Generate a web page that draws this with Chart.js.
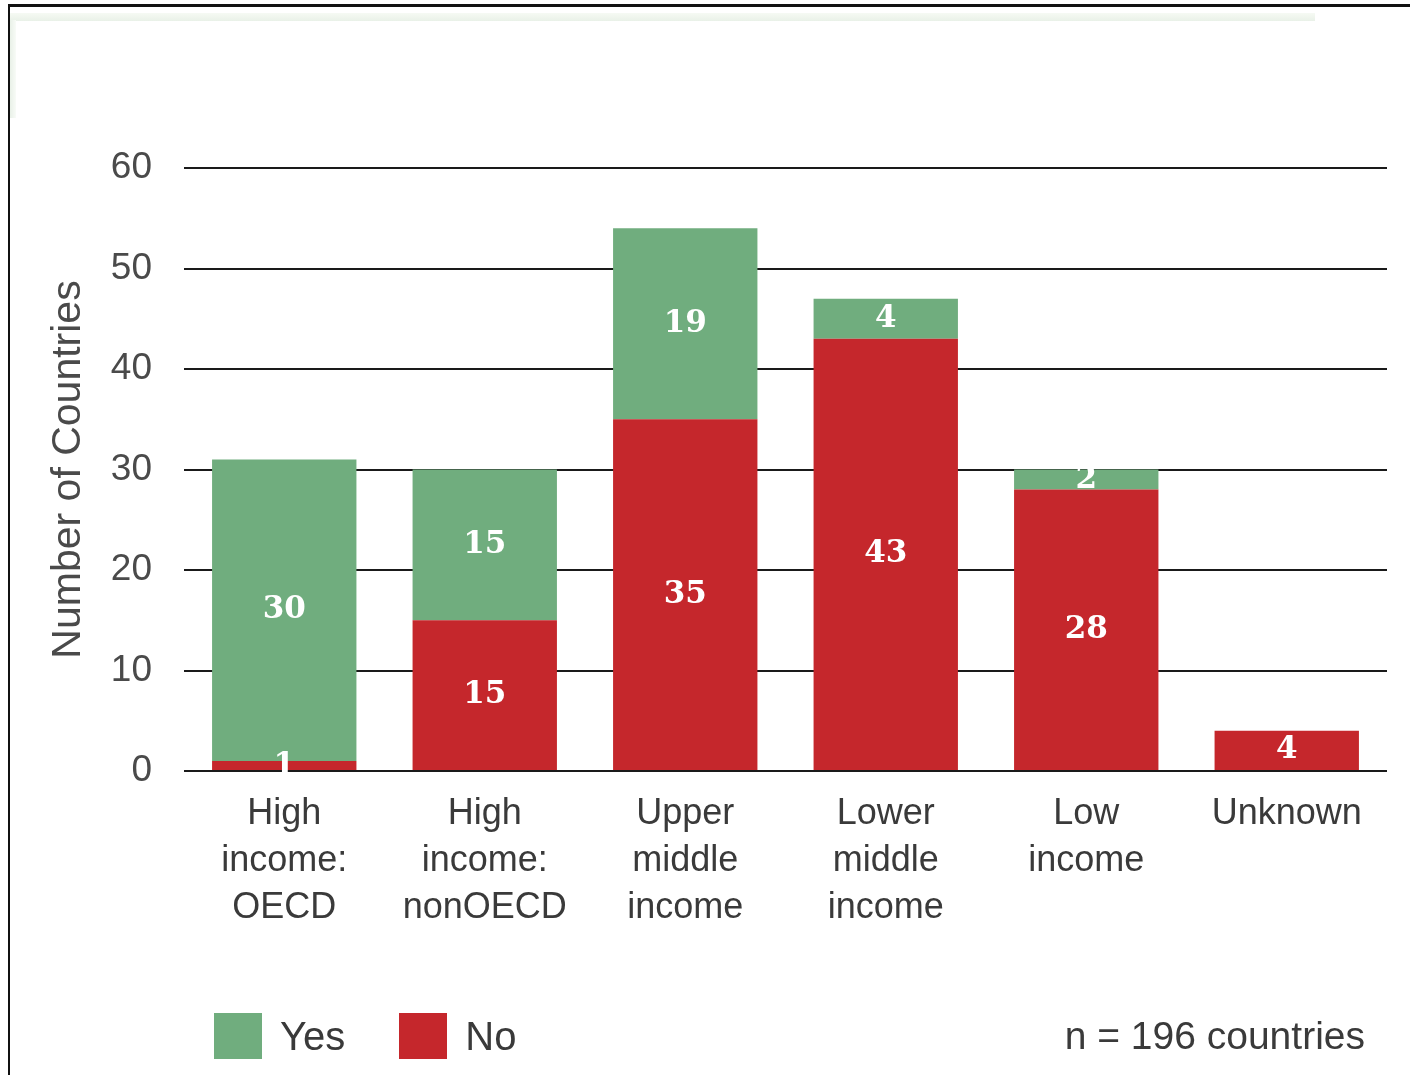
<!DOCTYPE html>
<html>
<head>
<meta charset="utf-8">
<script src="https://cdn.jsdelivr.net/npm/chart.js@4/dist/chart.umd.min.js"></script>
<style>
  html, body { margin: 0; padding: 0; background: #ffffff; }
  #wrap { position: relative; width: 1410px; height: 1075px; overflow: hidden; background: #fff; }
  #c { position: absolute; left: 0; top: 0; }
  .frameTop { position: absolute; left: 8px; top: 4px; width: 1402px; height: 3px; background: #111; }
  .frameLeft { position: absolute; left: 8px; top: 4px; width: 2px; height: 1071px; background: #111; }
  .bandTop { position: absolute; left: 10px; top: 13px; width: 1305px; height: 8px;
             background: linear-gradient(to bottom, #f6faf4, #e9f1e8); }
  .bandLeft { position: absolute; left: 10px; top: 20px; width: 6px; height: 98px;
              background: linear-gradient(to right, #e9f1e8, #f8fbf7); }
  #legend { position: absolute; left: 214px; top: 1012px; height: 48px; display: flex; align-items: center;
            font-family: "Liberation Sans", Arial, sans-serif; font-size: 40px; color: #3a3a3a; }
  .item { display: flex; align-items: center; margin-right: 54px; }
  .sw { width: 48px; height: 46px; margin-right: 18px; }
  #note { position: absolute; right: 45px; top: 1012px; height: 48px; line-height: 48px;
          font-family: "Liberation Sans", Arial, sans-serif; font-size: 39px; color: #3a3a3a; }
</style>
</head>
<body>
<div id="wrap">
  <canvas id="c" width="1410" height="1075"></canvas>
  <div class="bandTop"></div>
  <div class="bandLeft"></div>
  <div class="frameTop"></div>
  <div class="frameLeft"></div>
  <div id="legend"></div>
  <div id="note">n = 196 countries</div>
</div>
<script>
// ---- Data ----
const categories = [
  ["High", "income:", "OECD"],
  ["High", "income:", "nonOECD"],
  ["Upper", "middle", "income"],
  ["Lower", "middle", "income"],
  ["Low", "income"],
  ["Unknown"]
];
const noValues  = [1, 15, 35, 43, 28, 4];
const yesValues = [30, 15, 19, 4, 2, 0];
const seriesNames = ["Yes", "No"];
const yTicks = [0, 10, 20, 30, 40, 50, 60];
const yTitle = "Number of Countries";
const noteText = "n = 196 countries";

const GREEN = "#70ad7e";
const RED = "#c5272c";

const valueLabels = {
  id: "valueLabels",
  afterDatasetsDraw(chart) {
    const ctx = chart.ctx;
    ctx.save();
    ctx.fillStyle = "#ffffff";
    ctx.font = "bold 31px 'DejaVu Serif', 'Liberation Serif', serif";
    ctx.textAlign = "center";
    ctx.textBaseline = "middle";
    chart.data.datasets.forEach((ds, di) => {
      const meta = chart.getDatasetMeta(di);
      meta.data.forEach((bar, i) => {
        const v = ds.data[i];
        if (!v) return;
        const y = (bar.y + bar.base) / 2;
        ctx.fillText(String(v), bar.x, y);
      });
    });
    ctx.restore();
  }
};

const chart = new Chart(document.getElementById("c"), {
  type: "bar",
  data: {
    labels: categories,
    datasets: [
      { label: seriesNames[1], data: noValues, backgroundColor: RED, order: 1 },
      { label: seriesNames[0], data: yesValues, backgroundColor: GREEN, order: 2 }
    ]
  },
  options: {
    responsive: false,
    animation: false,
    devicePixelRatio: 1,
    barPercentage: 0.72,
    categoryPercentage: 1.0,
    layout: { padding: { left: 0, top: 168, right: 23, bottom: 0 } },
    plugins: {
      legend: { display: false },
      tooltip: { enabled: false }
    },
    scales: {
      x: {
        stacked: true,
        grid: { display: false, drawTicks: false },
        border: { display: false },
        ticks: {
          color: "#3a3a3a",
          padding: 20,
          maxRotation: 0,
          autoSkip: false,
          font: { family: "'Liberation Sans', Arial, sans-serif", size: 36, lineHeight: 1.3 }
        },
        afterFit(scale) { scale.height = 304; }
      },
      y: {
        stacked: true,
        min: 0,
        max: 60,
        afterBuildTicks(scale) { scale.ticks = yTicks.map(v => ({ value: v })); },
        grid: { color: "#1a1a1a", lineWidth: 2, drawTicks: false },
        border: { display: false },
        ticks: {
          color: "#4a4a4a",
          padding: 32,
          font: { family: "'Liberation Sans', Arial, sans-serif", size: 37 }
        },
        title: {
          display: true,
          text: yTitle,
          color: "#4a4a4a",
          font: { family: "'Liberation Sans', Arial, sans-serif", size: 41 },
          padding: { top: 44, bottom: 0 }
        },
        afterFit(scale) { scale.width = 184; }
      }
    }
  },
  plugins: [valueLabels]
});

// HTML legend built from datasets
const legend = document.getElementById("legend");
[1, 0].forEach(di => {
  const ds = chart.data.datasets[di];
  const item = document.createElement("div");
  item.className = "item";
  const sw = document.createElement("div");
  sw.className = "sw";
  sw.style.background = ds.backgroundColor;
  const t = document.createElement("span");
  t.textContent = ds.label;
  item.appendChild(sw);
  item.appendChild(t);
  legend.appendChild(item);
});
document.getElementById("note").textContent = noteText;
</script>
</body>
</html>
